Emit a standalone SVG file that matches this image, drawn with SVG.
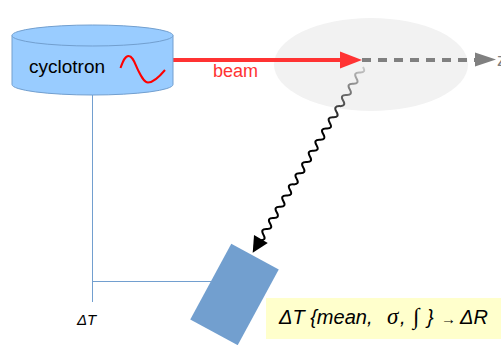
<svg xmlns="http://www.w3.org/2000/svg" width="501" height="345" viewBox="0 0 501 345">
<style>
.sans{font-family:"Liberation Sans",Arial,sans-serif}
.serif{font-family:"Liberation Serif","Times New Roman",serif}
.thin{stroke:#729fcf;stroke-width:1;fill:none}
</style>
<defs>
<linearGradient id="wg" gradientUnits="userSpaceOnUse" x1="0" y1="0" x2="70" y2="0">
<stop offset="0" stop-color="#c8c8c8"/>
<stop offset="1" stop-color="#000"/>
</linearGradient>
</defs>
<rect width="501" height="345" fill="#fff"/>
<g id="target">
<ellipse cx="371" cy="64.5" rx="97" ry="46.5" fill="#f2f2f2"/>
</g>
<g id="connectors">
<path class="thin" d="M92.5,95 V302 M92.5,281.5 H212"/>
<line x1="173" y1="60" x2="342" y2="60" stroke="#ff3333" stroke-width="4"/>
<polygon points="340,51.5 362,60 340,68.5" fill="#ff3333"/>
<line x1="362" y1="60" x2="476" y2="60" stroke="#808080" stroke-width="4" stroke-dasharray="9 7"/>
<polygon points="475,52.5 496,59.5 475,66.5" fill="#808080"/>
<g transform="translate(363,67) rotate(120.7)">
<path d="M0,0 q3.25,-6 6.5,0 t6.5,0 t6.5,0 t6.5,0 t6.5,0 t6.5,0 t6.5,0 t6.5,0 t6.5,0 t6.5,0 t6.5,0 t6.5,0 t6.5,0 t6.5,0 t6.5,0 t6.5,0 t6.5,0 t6.5,0 t6.5,0 t6.5,0 t6.5,0 t6.5,0 t6.5,0 t6.5,0 t6.5,0 t6.5,0 t6.5,0 t6.5,0 t6.5,0 t6.5,0 t6.5,0" fill="none" stroke="url(#wg)" stroke-width="2"/>
<polygon points="200,-8 216,0 200,8" fill="#000"/>
</g>
</g>
<g id="cyclotron">
<path d="M12,35.5 V84.5 A80.5,10.5 0 0 0 173,84.5 V35.5 Z" fill="#99ccff" stroke="#729fcf" stroke-width="1"/>
<ellipse cx="92.5" cy="35.5" rx="80.5" ry="10.5" fill="#99ccff" stroke="#729fcf" stroke-width="1"/>
<text class="sans" x="29" y="73" font-size="19" fill="#000">cyclotron</text>
<path d="M120.5,68 C123,61 125,56 128.5,56 C133,56 135,64 138,70 C141,76 144,82.5 148,82.5 C153,82.5 160,76 165,70" fill="none" stroke="#ff0000" stroke-width="2"/>
</g>
<g id="beam-label">
<text class="sans" x="213" y="77" font-size="18" fill="#ff3333">beam</text>
</g>
<g id="z-label">
<text class="sans" x="497" y="66" font-size="18" fill="#808080">z</text>
</g>
<g id="detector">
<rect x="-27" y="-43" width="54" height="86" fill="#729fcf" transform="translate(234.5,294.5) rotate(28.5)"/>
</g>
<g id="dt-label">
<text class="sans" x="77" y="325" font-size="15" font-style="italic" fill="#000">ΔT</text>
</g>
<g id="formula">
<rect x="266" y="298" width="235" height="41" fill="#ffffcc"/>
<text class="sans" x="279" y="324" font-size="20" font-style="italic" fill="#000">ΔT {mean, <tspan class="serif" font-size="23" x="387">σ</tspan><tspan x="400">,</tspan> <tspan class="serif" font-size="23" x="413">∫</tspan> <tspan x="427">}</tspan> <tspan font-size="15" x="441">→</tspan> <tspan x="460">ΔR</tspan></text>
</g>
</svg>
